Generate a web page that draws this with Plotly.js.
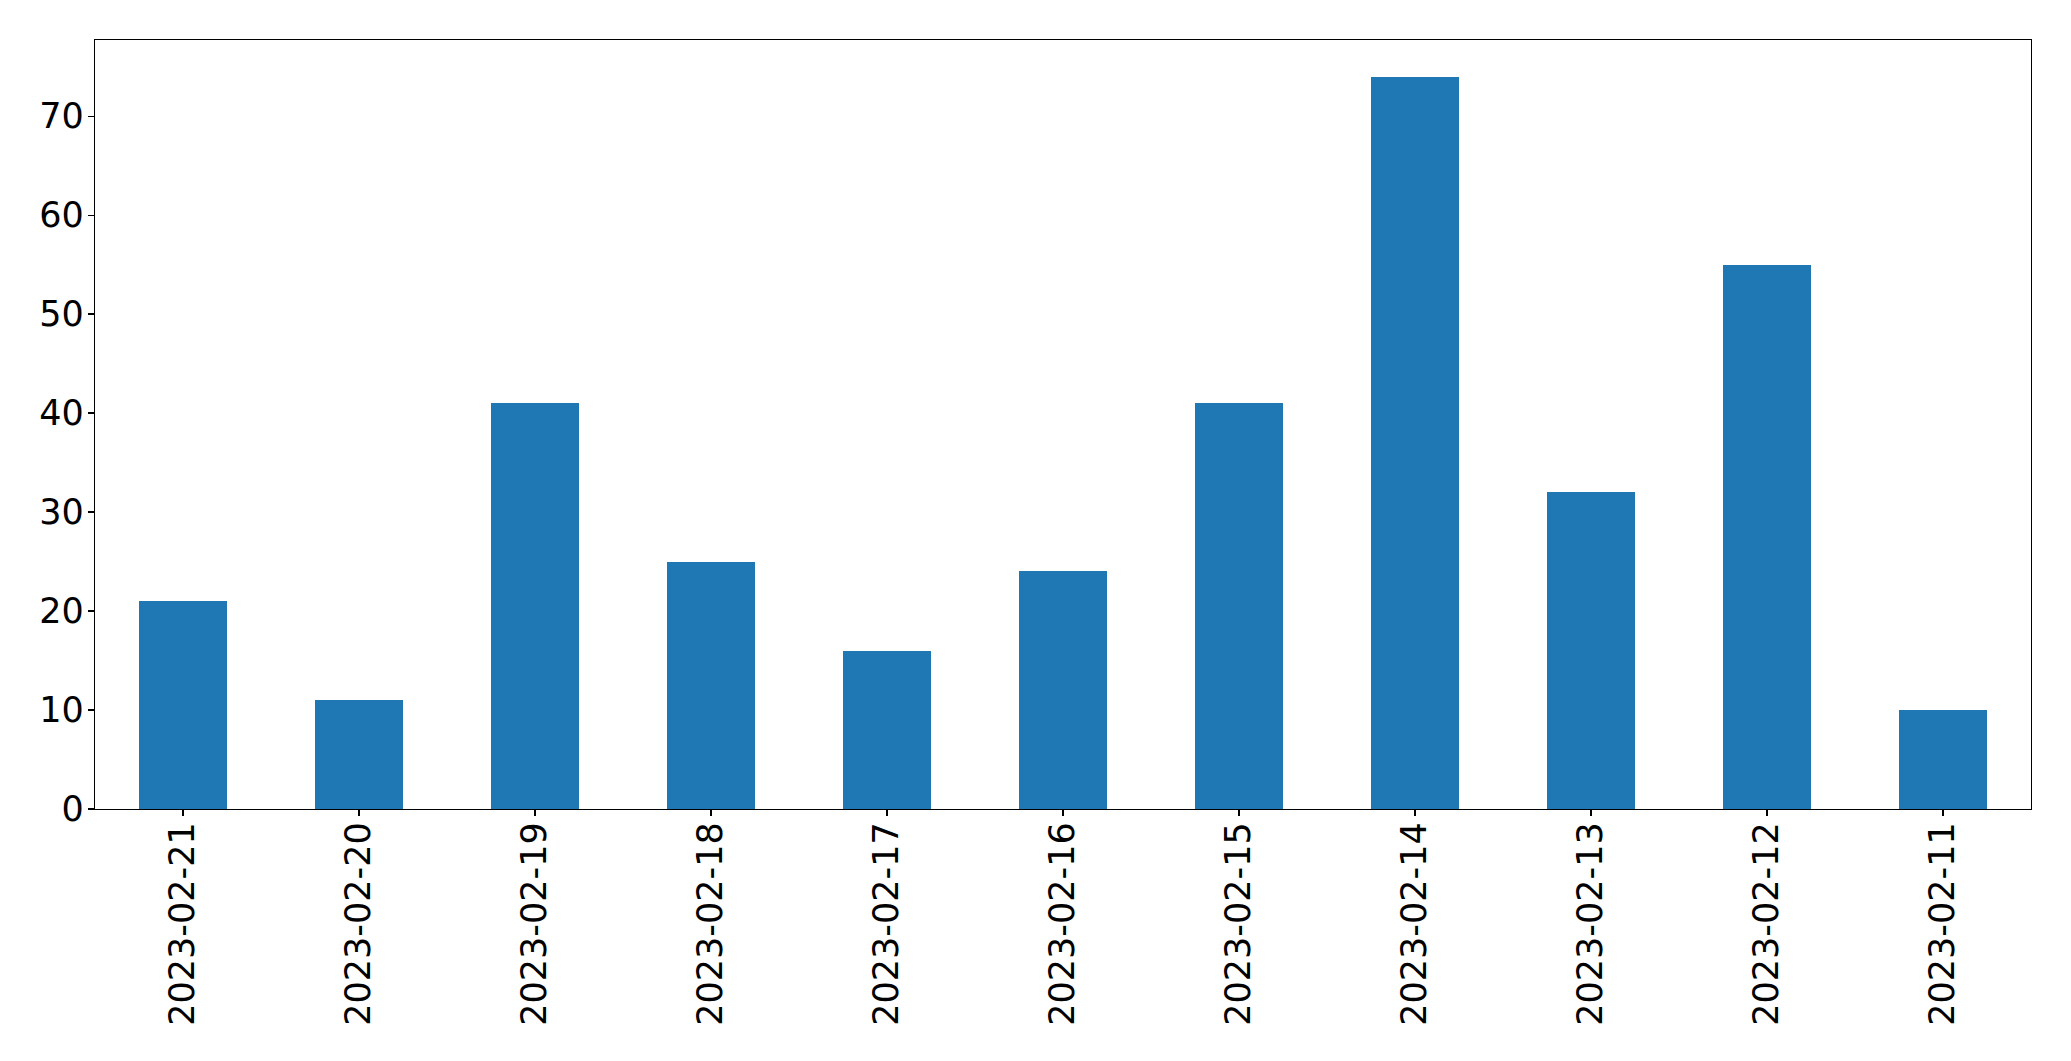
<!DOCTYPE html>
<html>
<head>
<meta charset="utf-8">
<script src="https://cdn.plot.ly/plotly-3.0.1.min.js"></script>
<style>html,body{margin:0;padding:0;background:#fff;}</style>
</head>
<body>
<div id="chart" style="width:2071px;height:1061px;"></div>
<script>
const dates = ["2023-02-21","2023-02-20","2023-02-19","2023-02-18","2023-02-17","2023-02-16","2023-02-15","2023-02-14","2023-02-13","2023-02-12","2023-02-11"];
const counts = [21, 11, 41, 25, 16, 24, 41, 74, 32, 55, 10];
const yTicks = [0, 10, 20, 30, 40, 50, 60, 70];

const trace = {
  type: 'bar',
  x: dates,
  y: counts,
  width: 0.5,
  marker: {color: '#1f77b4', line: {width: 0}},
  hoverinfo: 'x+y'
};

const font = {family: 'DejaVu Sans, sans-serif', size: 35, color: '#000'};

const layout = {
  width: 2071,
  height: 1061,
  autosize: false,
  margin: {l: 94.5, r: 40, t: 39.5, b: 252, pad: 0},
  paper_bgcolor: '#fff',
  plot_bgcolor: '#fff',
  showlegend: false,
  bargap: 0,
  xaxis: {
    type: 'category',
    range: [-0.5, dates.length - 0.5],
    tickangle: -90,
    ticks: 'outside',
    ticklen: 6,
    tickwidth: 1.3,
    tickcolor: '#000',
    showline: true,
    linecolor: '#000',
    linewidth: 1.3,
    mirror: true,
    showgrid: false,
    zeroline: false,
    tickfont: font,
    ticklabelstandoff: -8
  },
  yaxis: {
    range: [0, Math.max(...counts) * 1.05],
    tickvals: yTicks,
    ticktext: yTicks.map(String),
    ticks: 'outside',
    ticklen: 6,
    tickwidth: 1.3,
    tickcolor: '#000',
    showline: true,
    linecolor: '#000',
    linewidth: 1.3,
    mirror: true,
    showgrid: false,
    zeroline: false,
    tickfont: font,
    ticklabelstandoff: -3
  }
};

Plotly.newPlot('chart', [trace], layout, {displayModeBar: false, staticPlot: true});
</script>
</body>
</html>
